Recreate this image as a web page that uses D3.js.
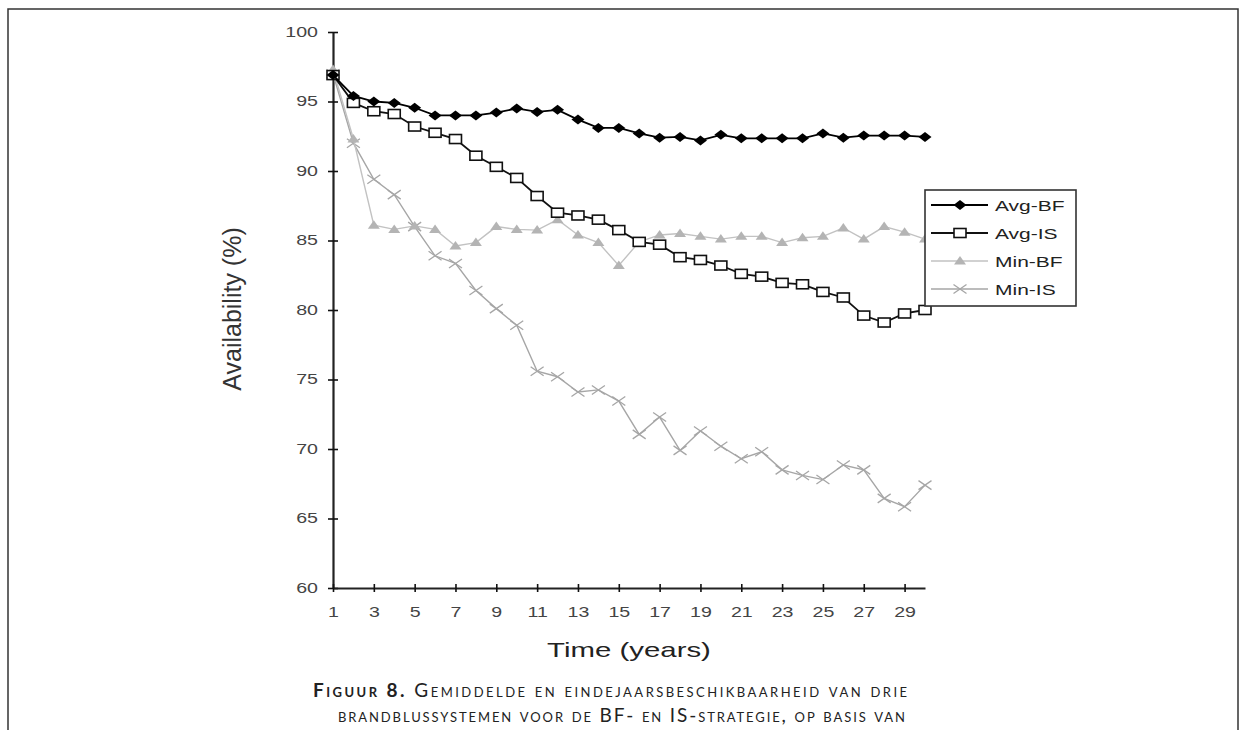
<!DOCTYPE html>
<html>
<head>
  <meta charset="utf-8">
  <script src="https://cdn.jsdelivr.net/npm/d3@7"></script>
  <style>
    body { margin: 0; background: #fff; }
  </style>
</head>
<body>
<script>
  // values (availability in %)
  var years = [1,2,3,4,5,6,7,8,9,10,11,12,13,14,15,16,17,18,19,20,21,22,23,24,25,26,27,28,29,30];
  var avgBF = [96.9,95.4,95.0,94.9,94.55,94.0,94.0,94.0,94.2,94.5,94.25,94.4,93.7,93.1,93.1,92.7,92.4,92.45,92.2,92.6,92.35,92.35,92.35,92.35,92.7,92.4,92.55,92.55,92.55,92.45];
  var avgIS = [96.9,94.9,94.3,94.1,93.2,92.75,92.3,91.1,90.3,89.5,88.2,87.0,86.8,86.5,85.75,84.9,84.7,83.8,83.6,83.2,82.6,82.4,81.95,81.85,81.3,80.9,79.6,79.1,79.75,80.0];
  var minBF = [97.3,92.3,86.1,85.8,86.05,85.8,84.6,84.85,86.0,85.8,85.75,86.5,85.4,84.85,83.2,84.9,85.4,85.5,85.3,85.1,85.3,85.3,84.85,85.2,85.3,85.9,85.1,86.0,85.6,85.1];
  var minIS = [97.0,92.0,89.4,88.3,86.0,83.9,83.35,81.4,80.1,78.9,75.6,75.2,74.1,74.25,73.45,71.05,72.3,69.9,71.3,70.2,69.3,69.8,68.5,68.1,67.8,68.85,68.5,66.45,65.85,67.4];
  var xTicks = [1,3,5,7,9,11,13,15,17,19,21,23,25,27,29];
  var yTicks = [60,65,70,75,80,85,90,95,100];
  var seriesNames = ["Avg-BF", "Avg-IS", "Min-BF", "Min-IS"];

  var W = 1245, H = 730;
  var SX = 1.4; // the scanned figure is stretched sideways
  var FONT = "Liberation Sans, Arial, sans-serif";
  var svg = d3.select("body").append("svg").attr("width", W).attr("height", H);

  // page frame
  svg.append("path")
    .attr("d", "M8,740 L8,9 L1238,9 L1238,740")
    .attr("fill", "none").attr("stroke", "#333").attr("stroke-width", 1.5);

  var x = d3.scaleLinear().domain([1, 30]).range([333, 925]);
  var y = d3.scaleLinear().domain([60, 100]).range([588, 32]);

  // y axis
  var yAx = svg.append("g").attr("transform", "translate(333,0)")
    .call(d3.axisLeft(y).tickValues(yTicks).tickSize(5).tickSizeOuter(0).tickPadding(15));
  yAx.select(".domain").attr("stroke", "#222").attr("stroke-width", 2.2);
  yAx.selectAll(".tick line").attr("x2", 5).attr("x1", -5).attr("stroke", "#111").attr("stroke-width", 1.6);
  yAx.selectAll(".tick text")
    .attr("x", -15 / SX).attr("transform", "scale(" + SX + ",1)")
    .attr("fill", "#444").style("font-family", FONT).style("font-size", "14px");

  // x axis
  var xAx = svg.append("g").attr("transform", "translate(0,588)")
    .call(d3.axisBottom(x).tickValues(xTicks).tickSize(4).tickSizeOuter(0).tickPadding(15));
  xAx.select(".domain").attr("stroke", "#222").attr("stroke-width", 1.8);
  xAx.selectAll(".tick line").attr("y1", -4).attr("y2", 4).attr("stroke", "#111").attr("stroke-width", 1.6);
  xAx.selectAll(".tick text")
    .attr("transform", "scale(" + SX + ",1)")
    .attr("fill", "#444").style("font-family", FONT).style("font-size", "14px");

  // axis titles
  svg.append("text")
    .attr("transform", "translate(629,657) scale(" + SX + ",1)")
    .style("text-anchor", "middle")
    .style("font-family", FONT)
    .style("font-size", "21px")
    .attr("fill", "#222")
    .text("Time (years)");
  svg.append("text")
    .attr("transform", "translate(241,309) rotate(-90)")
    .style("text-anchor", "middle")
    .style("font-family", FONT)
    .style("font-size", "25px")
    .attr("fill", "#333")
    .text("Availability (%)");

  var line = d3.line().x(function (d) { return x(d[0]); }).y(function (d) { return y(d[1]); });
  function pairs(vals) { return years.map(function (yr, i) { return [yr, vals[i]]; }); }

  var styles = {
    "Avg-BF": { color: "#000", width: 1.8, marker: "diamond" },
    "Avg-IS": { color: "#111", width: 1.8, marker: "square" },
    "Min-BF": { color: "#c2c2c2", width: 1.4, marker: "triangle" },
    "Min-IS": { color: "#a6a6a6", width: 1.4, marker: "cross" }
  };
  var dataBy = { "Avg-BF": avgBF, "Avg-IS": avgIS, "Min-BF": minBF, "Min-IS": minIS };

  function drawMarker(g, kind, cx, cy, color) {
    if (kind === "diamond") {
      g.append("path").attr("d", "M" + cx + "," + (cy - 5) + " L" + (cx + 6.5) + "," + cy + " L" + cx + "," + (cy + 5) + " L" + (cx - 6.5) + "," + cy + "Z")
        .attr("fill", color);
    } else if (kind === "square") {
      g.append("rect").attr("x", cx - 6).attr("y", cy - 4.5).attr("width", 12).attr("height", 9)
        .attr("fill", "#fff").attr("stroke", color).attr("stroke-width", 1.6);
    } else if (kind === "triangle") {
      g.append("path").attr("d", "M" + cx + "," + (cy - 5) + " L" + (cx + 6) + "," + (cy + 3.5) + " L" + (cx - 6) + "," + (cy + 3.5) + "Z")
        .attr("fill", "#b4b4b4");
    } else {
      g.append("path").attr("d", "M" + (cx - 6.5) + "," + (cy - 4.5) + " L" + (cx + 6.5) + "," + (cy + 4.5) + " M" + (cx - 6.5) + "," + (cy + 4.5) + " L" + (cx + 6.5) + "," + (cy - 4.5))
        .attr("stroke", color).attr("stroke-width", 1.3).attr("fill", "none");
    }
  }

  // draw back to front
  ["Min-IS", "Min-BF", "Avg-IS", "Avg-BF"].forEach(function (name) {
    var st = styles[name];
    var pts = pairs(dataBy[name]);
    var g = svg.append("g");
    g.append("path").datum(pts).attr("d", line)
      .attr("fill", "none").attr("stroke", st.color).attr("stroke-width", st.width);
    pts.forEach(function (p) { drawMarker(g, st.marker, x(p[0]), y(p[1]), st.color); });
  });

  // legend
  var lg = svg.append("g");
  lg.append("rect").attr("x", 925).attr("y", 190).attr("width", 151).attr("height", 116)
    .attr("fill", "#fff").attr("stroke", "#333").attr("stroke-width", 1.6);
  seriesNames.forEach(function (name, i) {
    var st = styles[name];
    var ly = 205 + i * 28;
    lg.append("line").attr("x1", 931).attr("x2", 988).attr("y1", ly).attr("y2", ly)
      .attr("stroke", st.color).attr("stroke-width", st.width);
    drawMarker(lg, st.marker, 960, ly, st.color);
    lg.append("text")
      .attr("transform", "translate(995," + (ly + 5.5) + ") scale(" + SX + ",1)")
      .style("font-family", FONT)
      .style("font-size", "15px")
      .attr("fill", "#222")
      .text(name);
  });

  // caption
  var cap = svg.append("g")
    .style("font-family", "Lato, 'Open Sans', sans-serif")
    .style("font-variant", "small-caps")
    .style("font-size", "19px")
    .attr("fill", "#222");
  var c1 = cap.append("text").attr("x", 313).attr("y", 697)
    .attr("textLength", 594).attr("lengthAdjust", "spacing");
  c1.append("tspan").style("font-weight", "bold").text("Figuur 8.");
  c1.append("tspan").text(" Gemiddelde en eindejaarsbeschikbaarheid van drie");
  cap.append("text").attr("x", 338).attr("y", 722)
    .attr("textLength", 567).attr("lengthAdjust", "spacing")
    .text("brandblussystemen voor de BF- en IS-strategie, op basis van");
</script>
</body>
</html>
